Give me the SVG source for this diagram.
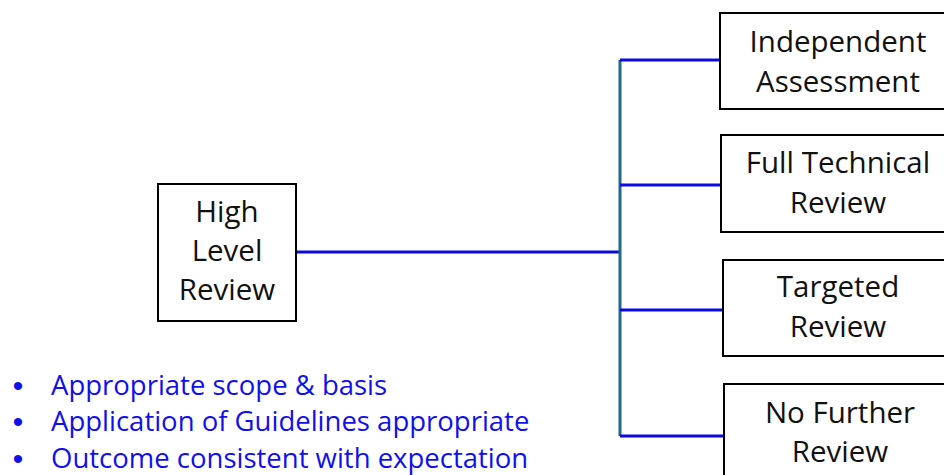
<svg xmlns="http://www.w3.org/2000/svg" width="944" height="475" viewBox="0 0 944 475">
<style>
.box{fill:#fff;stroke:#000;stroke-width:2}
.t{font-family:"Open Sans","Liberation Sans",sans-serif;font-size:29.5px;fill:#111;text-anchor:middle}
.b{font-family:"Open Sans","Liberation Sans",sans-serif;font-size:27.5px;fill:#1010ee}
.dot{font-family:"Liberation Sans",sans-serif;font-size:30px;fill:#1010ee;text-anchor:middle}
.br{stroke:#0a0ae6;stroke-width:3;fill:none}
.trunk{stroke:#1f6a8a;stroke-width:3;fill:none}
</style>
<rect width="944" height="475" fill="#fff"/>
<g id="connectors">
<line class="br" x1="296" y1="252" x2="620" y2="252"/>
<line class="trunk" x1="620" y1="60" x2="620" y2="436"/>
<line class="br" x1="620" y1="60" x2="720" y2="60"/>
<line class="br" x1="620" y1="185" x2="721" y2="185"/>
<line class="br" x1="620" y1="310" x2="723" y2="310"/>
<line class="br" x1="620" y1="436" x2="724" y2="436"/>
</g>
<g id="high-level-review">
<rect class="box" x="158" y="184" width="138" height="137"/>
<text class="t" x="227" y="222">High</text>
<text class="t" x="227" y="261">Level</text>
<text class="t" x="227" y="300">Review</text>
</g>
<g id="independent-assessment">
<rect class="box" x="720" y="13" width="240" height="96"/>
<text class="t" x="838" y="52">Independent</text>
<text class="t" x="838" y="92">Assessment</text>
</g>
<g id="full-technical-review">
<rect class="box" x="721" y="135" width="240" height="97"/>
<text class="t" x="838" y="173">Full Technical</text>
<text class="t" x="838" y="213">Review</text>
</g>
<g id="targeted-review">
<rect class="box" x="723" y="260" width="240" height="96"/>
<text class="t" x="838" y="297">Targeted</text>
<text class="t" x="838" y="337">Review</text>
</g>
<g id="no-further-review">
<rect class="box" x="724" y="384" width="240" height="100"/>
<text class="t" x="840" y="423">No Further</text>
<text class="t" x="840" y="462">Review</text>
</g>
<g id="criteria">
<text class="dot" x="18" y="396">•</text>
<text class="b" x="51" y="395">Appropriate scope &amp; basis</text>
<text class="dot" x="18" y="432">•</text>
<text class="b" x="51" y="431">Application of Guidelines appropriate</text>
<text class="dot" x="18" y="469">•</text>
<text class="b" x="51" y="468">Outcome consistent with expectation</text>
</g>
</svg>
